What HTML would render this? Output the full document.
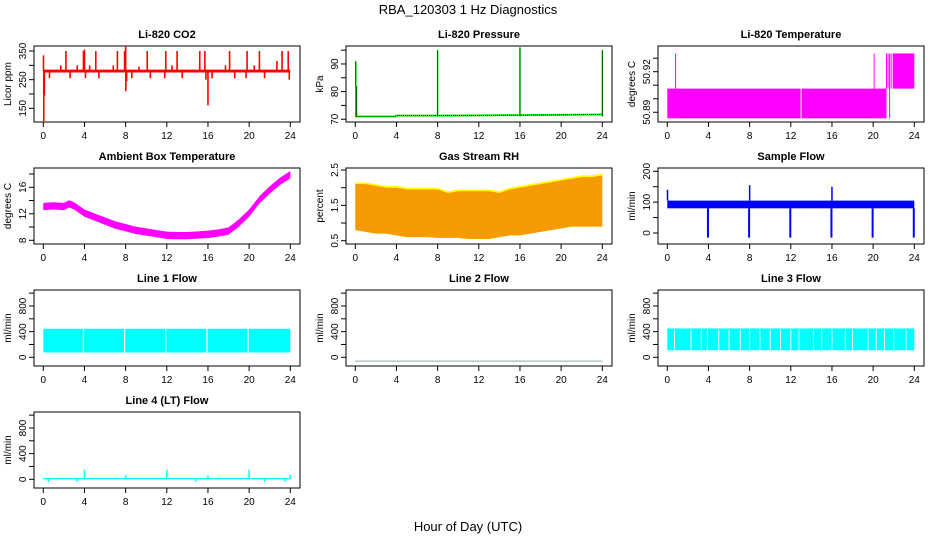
<!DOCTYPE html>
<html><head><meta charset="utf-8"><style>
body{margin:0;background:#fff}
svg{display:block;font-family:"Liberation Sans",sans-serif}
</style></head><body>
<svg id="c" width="936" height="540" xmlns="http://www.w3.org/2000/svg">
<text x="468" y="14" text-anchor="middle" font-size="13">RBA_120303  1 Hz Diagnostics</text>
<text x="468" y="531" text-anchor="middle" font-size="13">Hour of Day (UTC)</text>
</svg>
<script>
const hours = [0,4,8,12,16,20,24];
// CO2
const co2Base = [275, 285];
const co2Spikes = [[0.05,105],[0.1,195],[0.02,335],[0.6,255],[1.7,300],[2.2,350],[2.6,255],[3.3,300],[3.9,350],[4.0,355],[4.1,255],[4.5,300],[5.1,350],[5.4,255],[6.8,300],[7.2,350],[7.9,350],[8.0,365],[8.02,210],[8.1,245],[8.6,255],[9.3,295],[10.1,350],[10.4,255],[11.8,255],[11.9,350],[12.5,300],[13.0,350],[13.5,255],[15.2,350],[15.7,350],[15.8,250],[16.0,160],[16.4,255],[17.7,300],[18.1,350],[18.6,255],[19.7,255],[19.8,350],[20.5,300],[21.0,350],[21.5,255],[22.7,315],[23.2,350],[23.8,350],[23.9,250]];
// Pressure
const presHours = [0,3.9,4.0,8,12,16,20,24];
const presBase = [71.0,71.0,71.3,71.3,71.4,71.5,71.6,71.7];
const presSpikes = [[0.05,91],[0.12,82],[8.0,95],[16.0,96],[24.0,95]];
// Li-820 temperature blocks [start,end,lo,hi]
const tBlocks = [[0,12.95,50.8855,50.9075],[13.05,21.3,50.8855,50.9075],[21.9,24,50.9075,50.9335]];
const tLines = [[0.8,50.8855,50.9335],[20.1,50.8855,50.9335],[21.3,50.9075,50.9335],[21.45,50.9075,50.9335],[21.6,50.8855,50.9335],[21.75,50.9075,50.9335]];
// Ambient box temperature
const ambHours = [0,1,2,2.5,3,4,5,6,7,8,9,10,11,12,13,14,15,16,17,18,19,20,21,22,23,24];
const ambTemp = [13.1,13.2,13.1,13.5,13.2,12.1,11.5,10.9,10.3,9.9,9.5,9.25,9.0,8.75,8.7,8.7,8.8,8.9,9.1,9.4,10.6,12.1,14.1,15.6,16.9,17.9];
const ambHalf = 0.55;
// Gas stream RH
const rhHours = [0,1,2,3,4,5,6,7,8,9,10,11,12,13,14,15,16,17,18,19,20,21,22,23,24];
const rhHi = [2.1,2.1,2.05,2.0,2.0,1.95,1.95,1.95,1.95,1.85,1.9,1.9,1.9,1.9,1.85,1.95,2.0,2.05,2.1,2.15,2.2,2.25,2.3,2.3,2.35];
const rhLo = [0.8,0.75,0.7,0.7,0.65,0.6,0.6,0.6,0.58,0.58,0.58,0.55,0.55,0.55,0.6,0.65,0.65,0.7,0.75,0.8,0.85,0.9,0.9,0.9,0.9];
// Sample flow
const sfBand = [80, 105];
const sfDips = [4,8,12,16,20,24];
const sfDipVal = -15;
const sfSpikes = [[0.02,140],[8.0,155],[16.0,150]];
// Line flows
const l1Band = [75, 445];
const l1Gaps = [3.9,7.9,11.9,15.9,19.9];
const l2Value = -60;
const l3Band = [110, 450];
const l3Gaps = [0.7,2.3,3.3,3.9,5.0,6.0,7.1,8.0,9.0,10.0,11.0,12.0,12.8,14.2,15.0,16.0,17.3,18.0,19.5,20.3,21.1,22.0,23.2];
const l4Band = [0, 20];
const l4Spikes = [[4.0,150],[12.0,150],[20.0,150],[8.0,60],[16.0,60],[24.0,70],[0.5,-40],[3.3,-40],[14.8,-40],[21.5,-40],[23.5,-40]];

const svg = document.getElementById('c');
const NS = 'http://www.w3.org/2000/svg';
function el(tag, attrs, parent){const e=document.createElementNS(NS,tag);for(const k in attrs)e.setAttribute(k,attrs[k]);(parent||svg).appendChild(e);return e;}

function makePanel(name,col,row,title,ylab,ymin,ymax,ticks,labels){
  const L=34+312*col, R=300+312*col, T=46+122*row, B=122+122*row;
  const g=el('g',{});
  
  
  const x=h=>43.3+312*col+h*(247/24);
  const y=v=>B-(v-ymin)/(ymax-ymin)*(B-T);
  const t=el('text',{x:(L+R)/2,y:T-8,'text-anchor':'middle','font-size':'11','font-weight':'bold'},g);
  t.textContent=title;
  
  
  const plot=el('g',{},g);
  
  
  const ya=el('g',{},g);
  
  
  el('line',{x1:L,x2:L,y1:y(ticks[0]),y2:y(ticks[ticks.length-1]),stroke:'#000'},ya);
  ticks.forEach(v=>{el('line',{x1:L-5,x2:L,y1:y(v),y2:y(v),stroke:'#000'},ya);});
  labels.forEach(v=>{const tx=el('text',{x:0,y:0,'text-anchor':'middle','font-size':'10',transform:`translate(${L-8},${y(v)}) rotate(-90)`},ya);tx.textContent=String(v);});
  const yl=el('text',{'text-anchor':'middle','font-size':'10',transform:`translate(${L-23},${(T+B)/2}) rotate(-90)`},g);
  yl.textContent=ylab;
  
  
  const xa=el('g',{},g);
  
  
  el('line',{x1:x(0),x2:x(24),y1:B,y2:B,stroke:'#000'},xa);
  hours.forEach(h=>{el('line',{x1:x(h),x2:x(h),y1:B,y2:B+5,stroke:'#000'},xa);const tx=el('text',{x:x(h),y:B+17,'text-anchor':'middle','font-size':'10'},xa);tx.textContent=String(h);});
  const box=el('rect',{x:L,y:T,width:R-L,height:B-T,fill:'none',stroke:'#000'},g);
  
  
  return {x,y,plot,L,R,T,B};
}
function vline(p,h,v1,v2,c,w){el('line',{x1:p.x(h),x2:p.x(h),y1:p.y(v1),y2:p.y(v2),stroke:c,'stroke-width':w||1.5},p.plot);}
function band(p,h0,h1,lo,hi,fill){el('rect',{x:p.x(h0),y:p.y(hi),width:p.x(h1)-p.x(h0),height:p.y(lo)-p.y(hi),fill},p.plot);}
function poly(p,hs,lo,hi,fill,stroke){let pts=[];hs.forEach((h,i)=>pts.push(p.x(h)+','+p.y(hi[i])));for(let i=hs.length-1;i>=0;i--)pts.push(p.x(hs[i])+','+p.y(lo[i]));el('polygon',{points:pts.join(' '),fill},p.plot);}

let p=makePanel('co2',0,0,'Li-820 CO2','Licor ppm',102.2,367.5,[150,200,250,300,350],[150,250,350]);
band(p,0,24,co2Base[0],co2Base[1],'#ff0000');
co2Spikes.forEach(s=>vline(p,s[0],280,s[1],'#ff0000',1.6));

p=makePanel('pressure',1,0,'Li-820 Pressure','kPa',69.0,96.5,[70,75,80,85,90,95],[70,80,90]);
{let pts=presHours.map((h,i)=>p.x(h)+','+p.y(presBase[i])).join(' ');
el('polyline',{points:pts,fill:'none',stroke:'#00ff00','stroke-width':2},p.plot);
el('polyline',{points:pts,fill:'none',stroke:'#000','stroke-width':0.8,'stroke-dasharray':'1,1'},p.plot);
presSpikes.forEach(s=>{vline(p,s[0],71,s[1],'#00ff00',1.6);vline(p,s[0],71,s[1],'#000',0.6);});}

p=makePanel('li820-temp',2,0,'Li-820 Temperature','degrees C',50.8828,50.939,[50.89,50.90,50.91,50.92,50.93],['50.89','50.92']);
tBlocks.forEach(b=>band(p,b[0],b[1],b[2],b[3],'#ff00ff'));
tLines.forEach(l=>vline(p,l[0],l[1],l[2],'#ff00ff',1));

p=makePanel('ambient-temp',0,1,'Ambient Box Temperature','degrees C',7.44,18.91,[8,10,12,14,16,18],[8,12,16]);
poly(p,ambHours,ambTemp.map(v=>v-ambHalf),ambTemp.map(v=>v+ambHalf),'#ff00ff');

p=makePanel('gas-rh',1,1,'Gas Stream RH','percent',0.407,2.557,[0.5,1.0,1.5,2.0,2.5],[0.5,1.5,2.5]);
poly(p,rhHours,rhLo,rhHi.map(v=>v+0.05),'#ffff00');
poly(p,rhHours,rhLo,rhHi,'#f59a00');

p=makePanel('sample-flow',2,1,'Sample Flow','ml/min',-35.7,210.7,[0,50,100,150,200],[0,100,200]);
band(p,0,24,sfBand[0],sfBand[1],'#0000ff');
sfDips.forEach(h=>vline(p,h-0.05,sfBand[0],sfDipVal,'#0000ff',2));
sfSpikes.forEach(s=>vline(p,s[0],sfBand[1],s[1],'#0000ff',1.5));
const fT=[0,200,400,600,800,1000], fL=[0,400,800];

p=makePanel('line1-flow',0,2,'Line 1 Flow','ml/min',-135.7,1049,fT,fL);
band(p,0,24,l1Band[0],l1Band[1],'#00ffff');
l1Gaps.forEach(h=>vline(p,h,l1Band[0]-5,l1Band[1]+10,'#fff',1.2));

p=makePanel('line2-flow',1,2,'Line 2 Flow','ml/min',-135.7,1049,fT,fL);
el('line',{x1:p.x(0),x2:p.x(24),y1:p.y(l2Value),y2:p.y(l2Value),stroke:'#88aaaa','stroke-width':1},p.plot);

p=makePanel('line3-flow',2,2,'Line 3 Flow','ml/min',-135.7,1049,fT,fL);
band(p,0,24,l3Band[0],l3Band[1],'#00ffff');
l3Gaps.forEach(h=>vline(p,h,l3Band[0]+5,l3Band[1]-20,'#fff',1));

p=makePanel('line4-flow',0,3,'Line 4 (LT) Flow','ml/min',-135.7,1049,fT,fL);
band(p,0,24,l4Band[0],l4Band[1],'#00ffff');
l4Spikes.forEach(s=>vline(p,s[0],10,s[1],'#00ffff',1.5));
</script>
</body></html>
